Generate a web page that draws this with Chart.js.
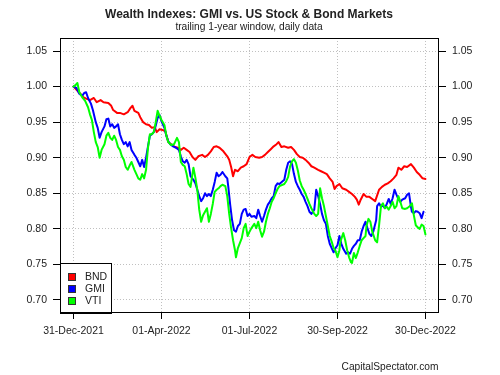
<!DOCTYPE html>
<html>
<head>
<meta charset="utf-8">
<script src="https://cdn.jsdelivr.net/npm/chart.js@4.4.1/dist/chart.umd.min.js"></script>
<style>
  body { margin: 0; background: #fff; }
  #chart { display: block; }
</style>
</head>
<body>
<canvas id="chart" width="500" height="375"></canvas>
<script>
// days counted from 31-Dec-2021
const xTickDays = [0, 91, 182, 273, 364];
const xTickLabels = ["31-Dec-2021", "01-Apr-2022", "01-Jul-2022", "30-Sep-2022", "30-Dec-2022"];
const yTicks = [0.70, 0.75, 0.80, 0.85, 0.90, 0.95, 1.00, 1.05];

const bndDays = [0, 7, 10, 13, 17, 21, 24, 28, 31, 36, 39, 41, 45, 48, 52, 56, 59, 61, 63, 67, 69, 72, 75, 78, 81, 84, 86, 89, 92, 95, 98, 101, 105, 108, 111, 114, 117, 120, 123, 126, 129, 133, 136, 139, 142, 145, 148, 151, 155, 159, 161, 163, 165, 167, 170, 173, 176, 179, 182, 185, 188, 192, 195, 198, 201, 204, 207, 210, 212, 215, 218, 222, 225, 228, 231, 234, 237, 240, 243, 246, 249, 253, 256, 259, 262, 265, 268, 270, 272, 275, 278, 282, 285, 288, 291, 293, 295, 297, 300, 303, 306, 309, 312, 316, 319, 322, 325, 328, 331, 334, 336, 339, 342, 345, 349, 352, 355, 358, 361, 364];
const bndVals = [1.000, 0.990, 0.985, 0.983, 0.981, 0.984, 0.978, 0.981, 0.978, 0.977, 0.973, 0.967, 0.963, 0.963, 0.961, 0.964, 0.970, 0.973, 0.966, 0.963, 0.957, 0.950, 0.947, 0.946, 0.942, 0.943, 0.936, 0.940, 0.939, 0.937, 0.922, 0.919, 0.915, 0.914, 0.911, 0.914, 0.911, 0.908, 0.901, 0.897, 0.902, 0.904, 0.901, 0.904, 0.909, 0.915, 0.916, 0.914, 0.909, 0.902, 0.897, 0.887, 0.874, 0.883, 0.881, 0.886, 0.888, 0.891, 0.901, 0.904, 0.901, 0.900, 0.901, 0.904, 0.908, 0.912, 0.916, 0.919, 0.922, 0.915, 0.916, 0.914, 0.915, 0.911, 0.905, 0.901, 0.900, 0.897, 0.893, 0.888, 0.886, 0.883, 0.881, 0.879, 0.877, 0.871, 0.866, 0.856, 0.860, 0.863, 0.857, 0.855, 0.852, 0.849, 0.845, 0.841, 0.834, 0.841, 0.849, 0.845, 0.845, 0.842, 0.839, 0.855, 0.859, 0.862, 0.864, 0.867, 0.871, 0.876, 0.886, 0.883, 0.888, 0.887, 0.891, 0.886, 0.880, 0.876, 0.871, 0.870];

const gmiDays = [0, 3, 6, 9, 11, 13, 15, 18, 20, 23, 25, 27, 29, 32, 34, 36, 38, 40, 42, 44, 46, 48, 50, 52, 54, 56, 58, 60, 63, 65, 67, 69, 71, 73, 75, 77, 79, 81, 83, 85, 87, 89, 91, 94, 96, 98, 100, 103, 106, 109, 111, 113, 115, 117, 119, 121, 124, 126, 128, 130, 132, 134, 136, 138, 140, 142, 144, 146, 148, 150, 152, 154, 157, 159, 160, 162, 164, 166, 168, 170, 172, 174, 176, 178, 180, 182, 184, 187, 189, 191, 193, 195, 197, 199, 201, 203, 205, 207, 209, 211, 213, 218, 220, 222, 224, 226, 228, 230, 232, 234, 236, 238, 240, 242, 244, 246, 249, 251, 253, 255, 257, 259, 261, 263, 265, 267, 269, 271, 273, 275, 277, 279, 282, 284, 286, 288, 290, 292, 294, 296, 298, 300, 302, 304, 306, 308, 310, 313, 314, 316, 318, 320, 322, 324, 326, 328, 330, 332, 334, 336, 338, 340, 343, 345, 347, 349, 350, 352, 354, 356, 358, 360, 362, 364];
const gmiVals = [1.000, 0.998, 0.990, 0.987, 0.991, 0.992, 0.984, 0.976, 0.967, 0.950, 0.942, 0.928, 0.936, 0.944, 0.954, 0.955, 0.944, 0.947, 0.942, 0.944, 0.947, 0.933, 0.925, 0.919, 0.922, 0.916, 0.922, 0.911, 0.904, 0.900, 0.894, 0.888, 0.897, 0.887, 0.900, 0.916, 0.931, 0.933, 0.936, 0.945, 0.956, 0.960, 0.951, 0.942, 0.931, 0.923, 0.919, 0.916, 0.914, 0.911, 0.902, 0.895, 0.893, 0.897, 0.891, 0.874, 0.869, 0.864, 0.855, 0.846, 0.839, 0.843, 0.850, 0.846, 0.849, 0.846, 0.855, 0.866, 0.879, 0.874, 0.876, 0.880, 0.874, 0.871, 0.860, 0.834, 0.812, 0.798, 0.796, 0.804, 0.807, 0.821, 0.827, 0.828, 0.818, 0.821, 0.817, 0.818, 0.815, 0.827, 0.818, 0.810, 0.818, 0.827, 0.834, 0.838, 0.843, 0.846, 0.860, 0.864, 0.863, 0.869, 0.883, 0.893, 0.895, 0.891, 0.877, 0.866, 0.860, 0.855, 0.849, 0.845, 0.838, 0.832, 0.824, 0.821, 0.827, 0.855, 0.846, 0.835, 0.821, 0.812, 0.807, 0.790, 0.779, 0.773, 0.767, 0.773, 0.777, 0.790, 0.779, 0.772, 0.765, 0.767, 0.765, 0.772, 0.776, 0.779, 0.784, 0.784, 0.796, 0.804, 0.810, 0.801, 0.793, 0.790, 0.796, 0.812, 0.832, 0.836, 0.831, 0.833, 0.829, 0.835, 0.842, 0.835, 0.843, 0.855, 0.848, 0.842, 0.838, 0.841, 0.843, 0.848, 0.850, 0.831, 0.824, 0.822, 0.825, 0.824, 0.822, 0.815, 0.824];

const vtiDays = [0, 2, 4, 6, 9, 12, 15, 17, 19, 21, 23, 25, 27, 29, 32, 34, 36, 38, 40, 42, 44, 46, 48, 50, 52, 54, 56, 58, 60, 63, 65, 67, 69, 71, 73, 75, 77, 79, 81, 83, 85, 87, 89, 91, 94, 96, 98, 101, 104, 107, 109, 111, 113, 115, 117, 119, 121, 124, 126, 128, 130, 132, 134, 136, 138, 140, 142, 144, 146, 148, 150, 152, 154, 157, 159, 161, 163, 165, 167, 168, 170, 172, 174, 176, 178, 180, 182, 184, 187, 189, 191, 193, 195, 197, 199, 201, 203, 205, 207, 209, 211, 213, 218, 220, 222, 224, 226, 228, 230, 232, 234, 236, 238, 240, 242, 244, 246, 249, 251, 253, 255, 257, 259, 261, 263, 265, 267, 269, 271, 273, 275, 276, 279, 281, 283, 285, 287, 288, 290, 292, 294, 296, 298, 300, 302, 303, 305, 307, 309, 312, 314, 316, 318, 320, 322, 324, 326, 328, 330, 332, 334, 336, 338, 340, 343, 345, 347, 349, 350, 352, 354, 356, 358, 360, 362, 364];
const vtiVals = [1.000, 1.002, 1.005, 0.992, 0.985, 0.980, 0.971, 0.961, 0.953, 0.936, 0.922, 0.915, 0.900, 0.911, 0.919, 0.931, 0.935, 0.928, 0.925, 0.931, 0.925, 0.915, 0.911, 0.902, 0.897, 0.887, 0.883, 0.889, 0.894, 0.883, 0.877, 0.871, 0.869, 0.877, 0.871, 0.883, 0.914, 0.933, 0.933, 0.936, 0.950, 0.966, 0.959, 0.953, 0.946, 0.931, 0.922, 0.918, 0.919, 0.928, 0.922, 0.894, 0.890, 0.888, 0.877, 0.863, 0.859, 0.886, 0.872, 0.855, 0.827, 0.810, 0.819, 0.824, 0.829, 0.810, 0.821, 0.835, 0.852, 0.855, 0.857, 0.860, 0.862, 0.860, 0.846, 0.821, 0.801, 0.784, 0.770, 0.760, 0.773, 0.780, 0.787, 0.801, 0.807, 0.790, 0.796, 0.801, 0.807, 0.801, 0.810, 0.798, 0.789, 0.796, 0.810, 0.821, 0.829, 0.838, 0.843, 0.850, 0.856, 0.860, 0.863, 0.867, 0.873, 0.888, 0.895, 0.898, 0.893, 0.882, 0.868, 0.860, 0.855, 0.849, 0.842, 0.835, 0.829, 0.821, 0.818, 0.821, 0.857, 0.843, 0.832, 0.818, 0.804, 0.790, 0.782, 0.773, 0.769, 0.760, 0.770, 0.782, 0.794, 0.784, 0.770, 0.760, 0.753, 0.752, 0.766, 0.759, 0.767, 0.776, 0.784, 0.787, 0.790, 0.804, 0.814, 0.810, 0.796, 0.784, 0.781, 0.805, 0.832, 0.836, 0.829, 0.831, 0.827, 0.832, 0.838, 0.829, 0.832, 0.846, 0.838, 0.829, 0.828, 0.829, 0.831, 0.834, 0.836, 0.819, 0.805, 0.802, 0.800, 0.806, 0.804, 0.792, 0.801];

const FONT = '"Liberation Sans", Arial, sans-serif';
const TEXT = "#222";

function pts(days, vals) {
  return days.map((d, i) => ({ x: d, y: vals[i] }));
}

const series = [
  { label: "BND", color: "#ff0000", data: pts(bndDays, bndVals), order: 3 },
  { label: "GMI", color: "#0000ff", data: pts(gmiDays, gmiVals), order: 2 },
  { label: "VTI", color: "#00ff00", data: pts(vtiDays, vtiVals), order: 1 },
];

const yAxis = (pos) => ({
  position: pos,
  min: 0.6817,
  max: 1.0683,
  afterBuildTicks: (s) => { s.ticks = yTicks.map((v) => ({ value: v })); },
  afterFit: (s) => { s.width = pos === "left" ? 60 : 61; },
  ticks: {
    color: TEXT,
    padding: 6,
    font: { family: FONT, size: 10.5 },
    callback: (v) => v.toFixed(2),
  },
  grid: {
    drawOnChartArea: pos === "left",
    color: "#c0c0c0",
    tickColor: "#000",
    tickLength: 7,
    tickBorderDash: [],
  },
  border: { display: false, dash: [1, 2] },
});

const decor = {
  id: "decor",
  afterDatasetsDraw(chart) {
    const { ctx, chartArea: a } = chart;
    ctx.save();
    // legend box, bottom-left inside the plot
    const lx = a.left, ly = a.bottom - 50;
    ctx.fillStyle = "#fff";
    ctx.fillRect(lx, ly, 51, 50);
    ctx.strokeStyle = "#000";
    ctx.lineWidth = 1;
    ctx.strokeRect(lx + 0.5, ly + 0.5, 51, 50);
    ctx.font = `10.5px ${FONT}`;
    ctx.textBaseline = "middle";
    series.forEach((s, i) => {
      const cy = ly + 14 + i * 12;
      ctx.fillStyle = s.color;
      ctx.fillRect(lx + 8, cy - 4, 8, 8);
      ctx.strokeStyle = "#333";
      ctx.strokeRect(lx + 8.5, cy - 3.5, 7, 7);
      ctx.fillStyle = TEXT;
      ctx.fillText(s.label, lx + 25, cy + 0.5);
    });
    // plot frame
    ctx.strokeStyle = "#000";
    ctx.strokeRect(a.left + 0.5, a.top + 0.5, a.right - a.left - 1, a.bottom - a.top - 1);
    ctx.restore();
  },
  afterDraw(chart) {
    const { ctx } = chart;
    ctx.save();
    ctx.fillStyle = TEXT;
    ctx.textAlign = "center";
    ctx.textBaseline = "middle";
    ctx.font = `bold 12px ${FONT}`;
    ctx.fillText("Wealth Indexes: GMI vs. US Stock & Bond Markets", 249, 14.5);
    ctx.font = `10.2px ${FONT}`;
    ctx.fillText("trailing 1-year window, daily data", 249, 27.5);
    ctx.fillText("CapitalSpectator.com", 390, 367);
    ctx.restore();
  },
};

new Chart(document.getElementById("chart"), {
  type: "line",
  data: {
    datasets: series.map((s) => ({
      label: s.label,
      data: s.data,
      order: s.order,
      borderColor: s.color,
      backgroundColor: s.color,
      borderWidth: 2,
      borderJoinStyle: "round",
      borderCapStyle: "round",
      pointRadius: 0,
      tension: 0,
      fill: false,
    })),
  },
  options: {
    responsive: false,
    devicePixelRatio: 1,
    animation: false,
    layout: { padding: { top: 38, left: 0, right: 0, bottom: 0 } },
    plugins: {
      legend: { display: false },
      title: { display: false },
      tooltip: { enabled: false },
    },
    scales: {
      x: {
        type: "linear",
        min: -14,
        max: 378,
        afterBuildTicks: (s) => { s.ticks = xTickDays.map((v) => ({ value: v })); },
        afterFit: (s) => { s.height = 62; },
        ticks: {
          color: TEXT,
          padding: 6,
          maxRotation: 0,
          autoSkip: false,
          font: { family: FONT, size: 10.5 },
          callback: (v, i) => xTickLabels[i],
        },
        grid: {
          color: "#c0c0c0",
          tickColor: "#000",
          tickLength: 6,
          tickBorderDash: [],
        },
        border: { display: false, dash: [1, 2] },
      },
      y: yAxis("left"),
      y2: yAxis("right"),
    },
  },
  plugins: [decor],
});
</script>
</body>
</html>
